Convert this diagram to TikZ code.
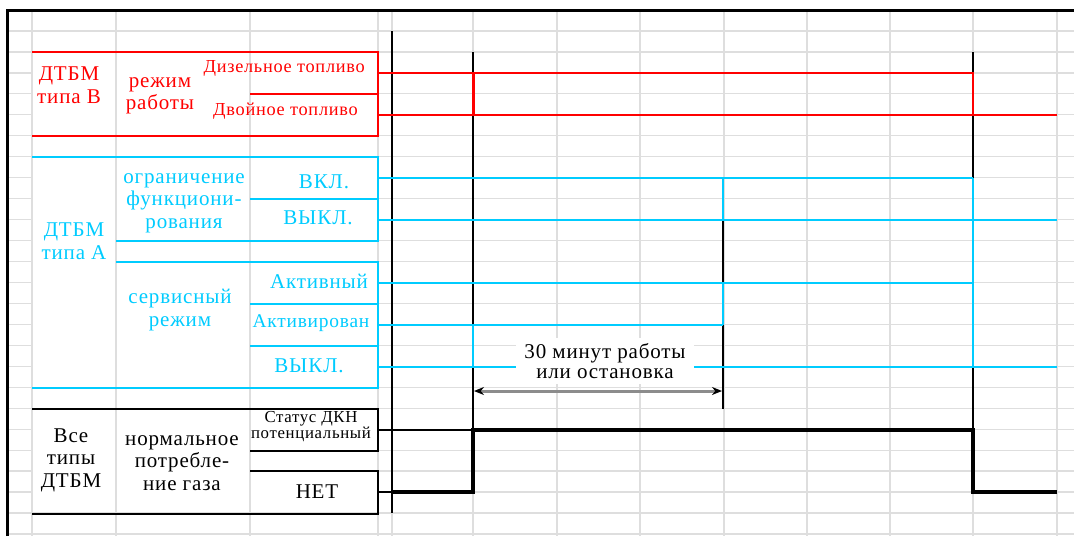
\documentclass[tikz,border=0pt]{standalone}
\usepackage{fontspec}
\setmainfont{Liberation Serif}[LetterSpace=4]
\usetikzlibrary{arrows.meta}
\definecolor{myred}{RGB}{255,0,0}
\definecolor{mycyan}{RGB}{0,204,255}
\definecolor{gridgray}{RGB}{222,222,222}
\tikzset{
  gridline/.style={draw=gridgray, line width=1.3pt},
  redline/.style={draw=myred, line width=1.6pt},
  cyanline/.style={draw=mycyan, line width=1.6pt},
  blkline/.style={draw=black, line width=1.6pt},
  marker/.style={draw=black, line width=1.2pt},
  thicksig/.style={draw=black, line width=3.2pt},
  dimarrow/.style={draw=black!45, line width=3pt, {Stealth[black,length=10pt,width=8pt]}-{Stealth[black,length=10pt,width=8pt]}},
  lbl/.style={inner sep=0pt, align=center, font=\fontsize{21}{22.5}\selectfont},
  lbls/.style={inner sep=0pt, align=center, font=\fontsize{18.3}{20}\selectfont},
  lblm/.style={inner sep=0pt, align=center, font=\fontsize{19.4}{21}\selectfont},
  lblxs/.style={inner sep=0pt, align=center, font=\fontsize{16.8}{16}\selectfont},
}
\begin{document}
\begin{tikzpicture}[x=1pt,y=-1pt]
\useasboundingbox (0,0) rectangle (1074,536);
\fill[white] (0,0) rectangle (1074,536);
% grid
\foreach \k in {1,2,24,25} \draw[gridline] (7,{10+20.96*\k}) -- (1074,{10+20.96*\k});
\foreach \k in {3,...,23} {
  \draw[gridline] (7,{10+20.96*\k}) -- (32,{10+20.96*\k});
  \draw[gridline] (378,{10+20.96*\k}) -- (1074,{10+20.96*\k});
}
\foreach \x in {32,116,250,378,392,473,557,640,724,807,890,973,1057}
  \draw[gridline] (\x,10) -- (\x,536);
% outer border
\draw[line width=3pt] (7,536) -- (7,10) -- (1074,10);

% black time markers
\draw[marker] (392,31) -- (392,513);
\draw[marker] (473,52) -- (473,430);
\draw[marker] (723,220) -- (723,409);
\draw[marker] (973,52) -- (973,430);

% ---------------- red group ----------------
\draw[redline] (32,52) -- (378,52) -- (378,136) -- (32,136);
\draw[redline] (250,94) -- (378,94);
\node[lbl, text=myred] (rB) at (69,85) {ДТБМ\\типа В};
\node[lbl, text=myred] (rMode) at (160,96) {режим\\работы};
\node[lbls, text=myred, anchor=east] (rDiesel) at (365,68) {Дизельное топливо};
\node[lbls, text=myred, anchor=east] (rDual) at (358,111) {Двойное топливо};
\draw[redline] (378,73) -- (973,73) -- (973,115);
\draw[redline] (378,115) -- (1057,115);
\draw[myred, line width=3pt] (473,73) -- (473,115);

% ---------------- cyan group ----------------
\draw[cyanline] (32,157) -- (378,157) -- (378,241) -- (116,241);
\draw[cyanline] (250,199) -- (378,199);
\draw[cyanline] (116,262) -- (378,262) -- (378,388) -- (32,388);
\draw[cyanline] (250,304) -- (378,304);
\draw[cyanline] (250,346) -- (378,346);
\node[lbl, text=mycyan] (cA) at (74,241) {ДТБМ\\типа А};
\node[lbl, text=mycyan] (cLim) at (184,203) {ограничение\\функциони-\\рования};
\node[lbl, text=mycyan] (cOn) at (324,182) {ВКЛ.};
\node[lbl, text=mycyan] (cOff1) at (318,218) {ВЫКЛ.};
\node[lbl, text=mycyan] (cSvc) at (180,310) {сервисный\\режим};
\node[lbl, text=mycyan] (cAct) at (319,281) {Активный};
\node[lblm, text=mycyan] (cActd) at (311,323) {Активирован};
\node[lbl, text=mycyan] (cOff2) at (309,366) {ВЫКЛ.};
% signals
\draw[cyanline] (378,178) -- (973,178);
\draw[cyanline] (378,220) -- (1057,220);
\draw[cyanline] (378,283) -- (973,283);
\draw[cyanline] (378,325) -- (723,325);
\draw[cyanline] (378,367) -- (1057,367);
\draw[cyanline] (723,178) -- (723,220);
\draw[cyanline] (723,283) -- (723,325);
\draw[cyanline] (973,178) -- (973,367);
\draw[mycyan, line width=2.4pt] (473,325) -- (473,367);

% ---------------- black group ----------------
\draw[blkline] (32,409) -- (378,409) -- (378,451) -- (250,451);
\draw[blkline] (250,471) -- (378,471) -- (378,514) -- (32,514);
\node[lbl] (kAll) at (71,460) {Все\\типы\\ДТБМ};
\node[lbl] (kGas) at (182,463) {нормальное\\потребле-\\ние газа};
\node[lblxs] (kSt) at (311,427) {Статус ДКН\\потенциальный};
\node[lbl] (kNo) at (317,492) {НЕТ};
\draw[blkline, line width=1.2pt] (378,430) -- (473,430);
\draw[blkline, line width=1.2pt] (378,492) -- (392,492);
\draw[thicksig] (392,492) -- (473,492) -- (473,430) -- (973,430) -- (973,492) -- (1057,492);

% ---------------- annotation ----------------
\node[lbl, fill=white, inner xsep=8pt, inner ysep=5pt, font=\fontsize{21}{20.5}\selectfont] (note) at (605,361) {30 минут работы\\или остановка};
\coordinate (aL) at (474,391);
\coordinate (aR) at (722,391);
\draw[dimarrow] (aL) -- (aR);
\end{tikzpicture}
\end{document}
